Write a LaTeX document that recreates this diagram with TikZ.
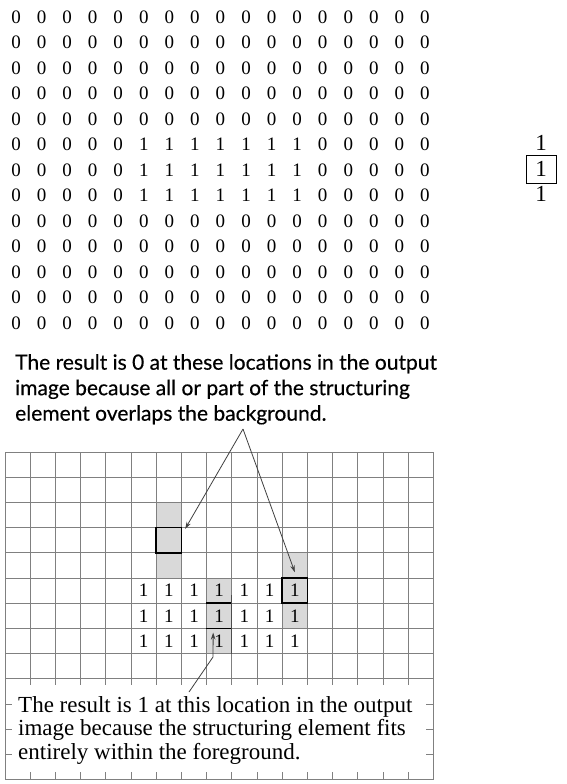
\documentclass[tikz,border=0pt]{standalone}
\usepackage{fontspec}
\setmainfont{Liberation Serif}
\newfontfamily\notefont[FakeBold=0.4]{Lato}
\usetikzlibrary{arrows.meta, calc}

\tikzset{
  digit/.style={inner sep=0pt, font=\fontsize{19}{19}\selectfont},
  gridline/.style={draw=black!50, line width=0.9pt},
  shadecell/.style={fill=black!15},
  probe/.style={draw=black, line width=1.6pt, minimum width=25.2pt, minimum height=25.2pt, inner sep=0pt},
  callout/.style={draw=black!75, line width=0.8pt, -{Stealth[length=7pt,width=4.5pt]}},
}

\begin{document}
\begin{tikzpicture}[x=1pt,y=-1pt]
\useasboundingbox (0,0) rectangle (567,784);

%Input image: 17 x 13 array of 0s with a block of 1s
\foreach \r in {1,...,13}{
  \foreach \c in {1,...,17}{
    \pgfmathtruncatemacro{\v}{(\r>5)*(\r<9)*(\c>5)*(\c<13)}
    \node[digit] (m-\r-\c) at ({16+25.56*(\c-1)},{17+25.5*(\r-1)}) {\v};
  }
}

%Structuring element
\node[digit, font=\fontsize{23}{23}\selectfont] (se-top) at (541,143) {1};
\node[digit, font=\fontsize{23}{23}\selectfont, draw, line width=1pt, minimum width=30pt, minimum height=28pt] (se-mid) at (541,169) {1};
\node[digit, font=\fontsize{23}{23}\selectfont] (se-bot) at (541,194) {1};

% Text Node
\node[anchor=north west, align=left, inner sep=0pt, font=\notefont\fontsize{21}{25.5}\selectfont] (zeronote) at (15,354)
  {The result is 0 at these locations in the output\\image because all or part of the structuring\\element overlaps the background.};

%Shaded cells
\fill[shadecell] (156.2,502.4) rectangle (181.4,578);
\fill[shadecell] (282.2,552.8) rectangle (307.4,628.4);
\fill[shadecell] (206.6,578) rectangle (231.8,653.6);

%Output grid
\foreach \i in {0,...,17}
  \draw[gridline] ({5+25.2*\i},452) -- ++(0,327.6);
\foreach \j in {0,...,13}
  \draw[gridline] (5,{452+25.2*\j}) -- ++(428.4,0);
\fill[white] (12,685) rectangle (426.4,772);

%1s of the output grid
\foreach \r in {6,7,8}{
  \foreach \c in {6,...,12}{
    \node[digit] (g-\r-\c) at ({5+25.2*(\c-0.5)},{452+25.2*(\r-0.5)}) {1};
  }
}

%Structuring element placed on the grid
\node[probe] (probe-a) at (168.8,540.2) {};
\node[probe] (probe-b) at (294.8,590.6) {};
\node[minimum width=25.2pt, minimum height=25.2pt, inner sep=0pt] (probe-c) at (219.2,615.8) {};
\draw[line width=1.6pt] (probe-c.north west) -- (probe-c.north east);
\draw[line width=1.6pt] (probe-c.south west) -- (probe-c.south east);
\draw[black!70, line width=1pt] (231.8,595) -- (231.8,653.6);

%Arrows from the upper note
\coordinate (apex) at (243,429);
\draw[callout] (apex) -- ($(probe-a.north east)+(3,2)$);
\draw[callout] (apex) -- ($(probe-b.north)+(0,-5)$);

% Text Node
\node[anchor=north west, align=left, inner sep=0pt, font=\fontsize{23}{23.5}\selectfont] (onenote) at (18,696)
  {The result is 1 at this location in the output\\image because the structuring element fits\\entirely within the foreground.};

%Arrow from the lower note
\coordinate (onetail) at (189,692);
\coordinate (bend) at (213,657);
\draw[callout] (onetail) -- (bend) -- ($(probe-c.south)+(-6,4)$);

\end{tikzpicture}
\end{document}
